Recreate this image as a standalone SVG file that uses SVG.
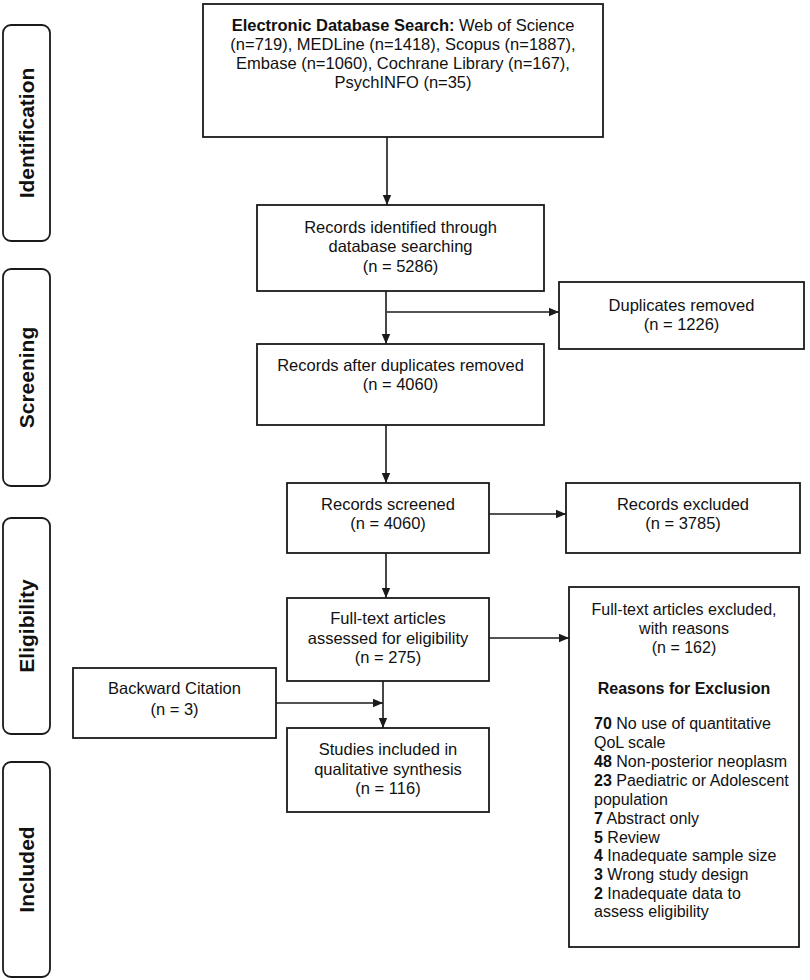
<svg xmlns="http://www.w3.org/2000/svg" width="810" height="980" viewBox="0 0 810 980">
<style>
.box{fill:#fff;stroke:#1a1a1a;stroke-width:1.8}
.phase{fill:#fff;stroke:#1a1a1a;stroke-width:1.8}
.t{font-family:"Liberation Sans",Arial,sans-serif;font-size:16.5px;fill:#111;text-anchor:middle}
.s{font-family:"Liberation Sans",Arial,sans-serif;font-size:16px;fill:#111}
.c{text-anchor:middle}
.b{font-weight:bold}
.ph{font-family:"Liberation Sans",Arial,sans-serif;font-size:21px;font-weight:bold;fill:#111;text-anchor:middle}
.ln{stroke:#1a1a1a;stroke-width:1.6;fill:none;marker-end:url(#ah)}
</style>
<defs>
<marker id="ah" markerUnits="userSpaceOnUse" markerWidth="10" markerHeight="10" viewBox="0 0 10 10" refX="10" refY="5" orient="auto">
<path d="M0,0.8 L10,5 L0,9.2 Z" fill="#1a1a1a"/>
</marker>
</defs>
<rect width="810" height="980" fill="#fff"/>

<g id="phase-identification">
<rect class="phase" x="3" y="25" width="47" height="216" rx="8"/>
<text class="ph" transform="translate(34,133) rotate(-90)">Identification</text>
</g>
<g id="phase-screening">
<rect class="phase" x="3" y="269" width="47" height="217" rx="8"/>
<text class="ph" transform="translate(34,377.5) rotate(-90)">Screening</text>
</g>
<g id="phase-eligibility">
<rect class="phase" x="3" y="518" width="47" height="216" rx="8"/>
<text class="ph" transform="translate(34,626) rotate(-90)">Eligibility</text>
</g>
<g id="phase-included">
<rect class="phase" x="3" y="762" width="47" height="215" rx="8"/>
<text class="ph" transform="translate(34,869.5) rotate(-90)">Included</text>
</g>

<g id="connectors">
<line class="ln" x1="387" y1="137" x2="387" y2="205"/>
<line class="ln" x1="386" y1="291" x2="386" y2="344"/>
<line class="ln" x1="387" y1="312" x2="559" y2="312"/>
<line class="ln" x1="386" y1="425" x2="386" y2="483"/>
<line class="ln" x1="489" y1="514" x2="566" y2="514"/>
<line class="ln" x1="386" y1="553" x2="386" y2="598"/>
<line class="ln" x1="489" y1="638" x2="569" y2="638"/>
<line class="ln" x1="383" y1="681" x2="383" y2="728"/>
<line class="ln" x1="276" y1="703" x2="383" y2="703"/>
</g>

<g id="database-search">
<rect class="box" x="203" y="4" width="400" height="133"/>
<text class="t" x="403" y="30.5"><tspan class="b">Electronic Database Search:</tspan> Web of Science</text>
<text class="t" x="403" y="49.5">(n=719), MEDLine (n=1418), Scopus (n=1887),</text>
<text class="t" x="403" y="68.5">Embase (n=1060), Cochrane Library (n=167),</text>
<text class="t" x="403" y="87.5">PsychINFO (n=35)</text>
</g>

<g id="records-identified">
<rect class="box" x="257" y="205" width="287" height="86"/>
<text class="t" x="400.5" y="232.5">Records identified through</text>
<text class="t" x="400.5" y="252">database searching</text>
<text class="t" x="400.5" y="271.5">(n = 5286)</text>
</g>

<g id="duplicates-removed">
<rect class="box" x="559" y="282" width="245" height="67"/>
<text class="t" x="681.5" y="311">Duplicates removed</text>
<text class="t" x="681.5" y="330">(n = 1226)</text>
</g>

<g id="records-after-duplicates">
<rect class="box" x="257" y="344" width="287" height="81"/>
<text class="t" x="400.5" y="371">Records after duplicates removed</text>
<text class="t" x="400.5" y="390">(n = 4060)</text>
</g>

<g id="records-screened">
<rect class="box" x="287" y="483" width="202" height="70"/>
<text class="t" x="388" y="509.5">Records screened</text>
<text class="t" x="388" y="528.5">(n = 4060)</text>
</g>

<g id="records-excluded">
<rect class="box" x="566" y="483" width="234" height="70"/>
<text class="t" x="683" y="509.5">Records excluded</text>
<text class="t" x="683" y="528.5">(n = 3785)</text>
</g>

<g id="full-text-assessed">
<rect class="box" x="287" y="598" width="202" height="83"/>
<text class="t" x="388" y="624">Full-text articles</text>
<text class="t" x="388" y="643.5">assessed for eligibility</text>
<text class="t" x="388" y="663">(n = 275)</text>
</g>

<g id="backward-citation">
<rect class="box" x="73" y="668" width="203" height="70"/>
<text class="t" x="174.5" y="694">Backward Citation</text>
<text class="t" x="174.5" y="714.5">(n = 3)</text>
</g>

<g id="studies-included">
<rect class="box" x="287" y="728" width="202" height="84"/>
<text class="t" x="388" y="755">Studies included in</text>
<text class="t" x="388" y="774.5">qualitative synthesis</text>
<text class="t" x="388" y="794">(n = 116)</text>
</g>

<g id="full-text-excluded">
<rect class="box" x="569" y="587" width="230" height="360"/>
<text class="s c" x="684" y="615">Full-text articles excluded,</text>
<text class="s c" x="684" y="634">with reasons</text>
<text class="s c" x="684" y="653">(n = 162)</text>
<text class="s c b" x="684" y="694">Reasons for Exclusion</text>
<text class="s" x="594" y="729"><tspan class="b">70</tspan> No use of quantitative</text>
<text class="s" x="594" y="748">QoL scale</text>
<text class="s" x="594" y="767"><tspan class="b">48</tspan> Non-posterior neoplasm</text>
<text class="s" x="594" y="786"><tspan class="b">23</tspan> Paediatric or Adolescent</text>
<text class="s" x="594" y="805">population</text>
<text class="s" x="594" y="823.5"><tspan class="b">7</tspan> Abstract only</text>
<text class="s" x="594" y="842.5"><tspan class="b">5</tspan> Review</text>
<text class="s" x="594" y="861"><tspan class="b">4</tspan> Inadequate sample size</text>
<text class="s" x="594" y="880"><tspan class="b">3</tspan> Wrong study design</text>
<text class="s" x="594" y="899"><tspan class="b">2</tspan> Inadequate data to</text>
<text class="s" x="594" y="917">assess eligibility</text>
</g>
</svg>
